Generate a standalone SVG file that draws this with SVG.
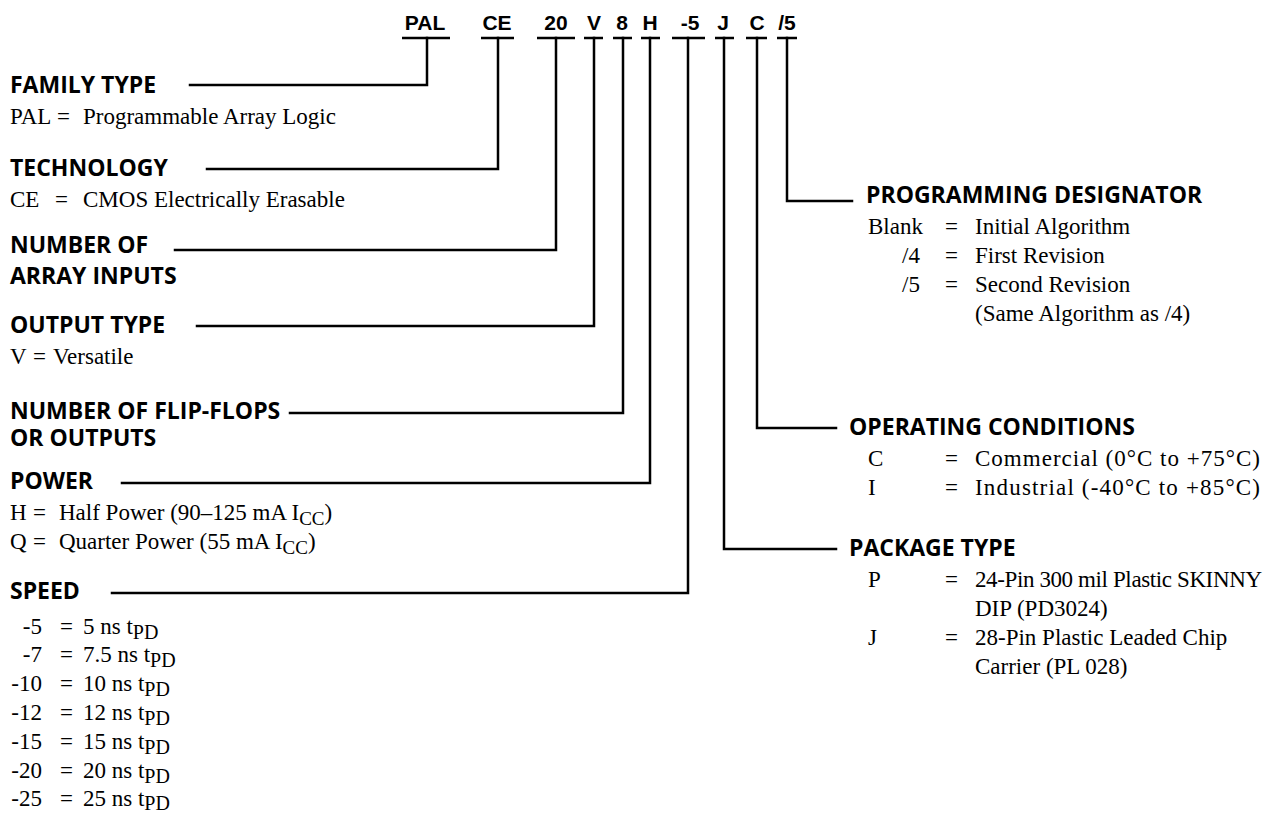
<svg xmlns="http://www.w3.org/2000/svg" width="1276" height="813" viewBox="0 0 1276 813">
<style>
.top{font-family:"Liberation Sans",Arial,sans-serif;font-weight:bold;font-size:21px;fill:#000;text-anchor:middle}
.hd{font-family:"Open Sans","Noto Sans",sans-serif;font-weight:bold;font-size:23px;fill:#000}
.bd{font-family:"Liberation Serif","Times New Roman",serif;font-size:23px;fill:#000}
.end{text-anchor:end}
.ul{stroke:#000;stroke-width:2.5;fill:none}
.cn path{stroke:#000;stroke-width:2.5;fill:none;stroke-linecap:square;stroke-linejoin:miter}
</style>
<rect width="1276" height="813" fill="#fff"/>
<g id="code">
<g id="c-pal"><text class="top" x="425" y="30">PAL</text><path class="ul" d="M402,38H450"/></g>
<g id="c-ce"><text class="top" x="497" y="30">CE</text><path class="ul" d="M481,38H514"/></g>
<g id="c-20"><text class="top" x="556" y="30">20</text><path class="ul" d="M537,38H575"/></g>
<g id="c-v"><text class="top" x="594" y="30">V</text><path class="ul" d="M584,38H603"/></g>
<g id="c-8"><text class="top" x="622" y="30">8</text><path class="ul" d="M613,38H632"/></g>
<g id="c-h"><text class="top" x="650" y="30">H</text><path class="ul" d="M641,38H660"/></g>
<g id="c-5"><text class="top" x="690" y="30">-5</text><path class="ul" d="M672,38H705"/></g>
<g id="c-j"><text class="top" x="723" y="30">J</text><path class="ul" d="M715,38H734"/></g>
<g id="c-c"><text class="top" x="757" y="30">C</text><path class="ul" d="M746,38H767"/></g>
<g id="c-s5"><text class="top" x="787" y="30">/5</text><path class="ul" d="M777,38H797"/></g>
</g>
<g id="connectors" class="cn">
<path d="M427,38V85H190"/>
<path d="M498,38V169H207"/>
<path d="M556,38V250H175"/>
<path d="M594,38V326H197"/>
<path d="M623,38V413H290"/>
<path d="M650,38V483H122"/>
<path d="M688,38V593H112"/>
<path d="M724,38V549H836"/>
<path d="M757,38V428H836"/>
<path d="M787,38V201H852"/>
</g>
<g id="family">
<text class="hd" x="10" y="93">FAMILY TYPE</text>
<text class="bd" x="10" y="124">PAL</text><text class="bd" x="57" y="124">=</text><text class="bd" x="83" y="124">Programmable Array Logic</text>
</g>
<g id="technology">
<text class="hd" x="10" y="176">TECHNOLOGY</text>
<text class="bd" x="10" y="207">CE</text><text class="bd" x="55" y="207">=</text><text class="bd" x="83" y="207">CMOS Electrically Erasable</text>
</g>
<g id="inputs">
<text class="hd" x="10" y="253">NUMBER OF</text>
<text class="hd" x="10" y="284">ARRAY INPUTS</text>
</g>
<g id="output">
<text class="hd" x="10" y="333">OUTPUT TYPE</text>
<text class="bd" x="10" y="364">V</text><text class="bd" x="33" y="364">=</text><text class="bd" x="53" y="364">Versatile</text>
</g>
<g id="flipflops">
<text class="hd" x="10" y="419">NUMBER OF FLIP-FLOPS</text>
<text class="hd" x="10" y="446">OR OUTPUTS</text>
</g>
<g id="power">
<text class="hd" x="10" y="489">POWER</text>
<text class="bd" x="10" y="520">H</text><text class="bd" x="33" y="520">=</text><text class="bd" x="59" y="520">Half Power (90–125 mA I<tspan dy="5" font-size="19">CC</tspan><tspan dy="-5">)</tspan></text>
<text class="bd" x="10" y="549">Q</text><text class="bd" x="33" y="549">=</text><text class="bd" x="59" y="549">Quarter Power (55 mA I<tspan dy="5" font-size="19">CC</tspan><tspan dy="-5">)</tspan></text>
</g>
<g id="speed">
<text class="hd" x="10" y="599">SPEED</text>
<text class="bd end" x="42" y="634">-5</text><text class="bd" x="60" y="634">=</text><text class="bd" x="83" y="634">5 ns t<tspan dy="5" font-size="20">PD</tspan></text>
<text class="bd end" x="42" y="662">-7</text><text class="bd" x="60" y="662">=</text><text class="bd" x="83" y="662">7.5 ns t<tspan dy="5" font-size="20">PD</tspan></text>
<text class="bd end" x="42" y="691">-10</text><text class="bd" x="60" y="691">=</text><text class="bd" x="83" y="691">10 ns t<tspan dy="5" font-size="20">PD</tspan></text>
<text class="bd end" x="42" y="720">-12</text><text class="bd" x="60" y="720">=</text><text class="bd" x="83" y="720">12 ns t<tspan dy="5" font-size="20">PD</tspan></text>
<text class="bd end" x="42" y="749">-15</text><text class="bd" x="60" y="749">=</text><text class="bd" x="83" y="749">15 ns t<tspan dy="5" font-size="20">PD</tspan></text>
<text class="bd end" x="42" y="778">-20</text><text class="bd" x="60" y="778">=</text><text class="bd" x="83" y="778">20 ns t<tspan dy="5" font-size="20">PD</tspan></text>
<text class="bd end" x="42" y="806">-25</text><text class="bd" x="60" y="806">=</text><text class="bd" x="83" y="806">25 ns t<tspan dy="4" font-size="20">PD</tspan></text>
</g>
<g id="programming">
<text class="hd" x="866" y="203">PROGRAMMING DESIGNATOR</text>
<text class="bd" x="868" y="234">Blank</text><text class="bd" x="945" y="234">=</text><text class="bd" x="975" y="234">Initial Algorithm</text>
<text class="bd end" x="920" y="263">/4</text><text class="bd" x="945" y="263">=</text><text class="bd" x="975" y="263">First Revision</text>
<text class="bd end" x="920" y="292">/5</text><text class="bd" x="945" y="292">=</text><text class="bd" x="975" y="292">Second Revision</text>
<text class="bd" x="975" y="321">(Same Algorithm as /4)</text>
</g>
<g id="operating">
<text class="hd" x="849" y="435">OPERATING CONDITIONS</text>
<text class="bd" x="868" y="466">C</text><text class="bd" x="945" y="466">=</text><text class="bd" x="975" y="466" textLength="285" lengthAdjust="spacing">Commercial (0°C to +75°C)</text>
<text class="bd" x="868" y="495">I</text><text class="bd" x="945" y="495">=</text><text class="bd" x="975" y="495" textLength="285" lengthAdjust="spacing">Industrial (-40°C to +85°C)</text>
</g>
<g id="package">
<text class="hd" x="849" y="556">PACKAGE TYPE</text>
<text class="bd" x="868" y="587">P</text><text class="bd" x="945" y="587">=</text><text class="bd" x="975" y="587" textLength="287" lengthAdjust="spacing">24-Pin 300 mil Plastic SKINNY</text>
<text class="bd" x="975" y="616">DIP (PD3024)</text>
<text class="bd" x="868" y="645">J</text><text class="bd" x="945" y="645">=</text><text class="bd" x="975" y="645">28-Pin Plastic Leaded Chip</text>
<text class="bd" x="975" y="674">Carrier (PL 028)</text>
</g>
</svg>
